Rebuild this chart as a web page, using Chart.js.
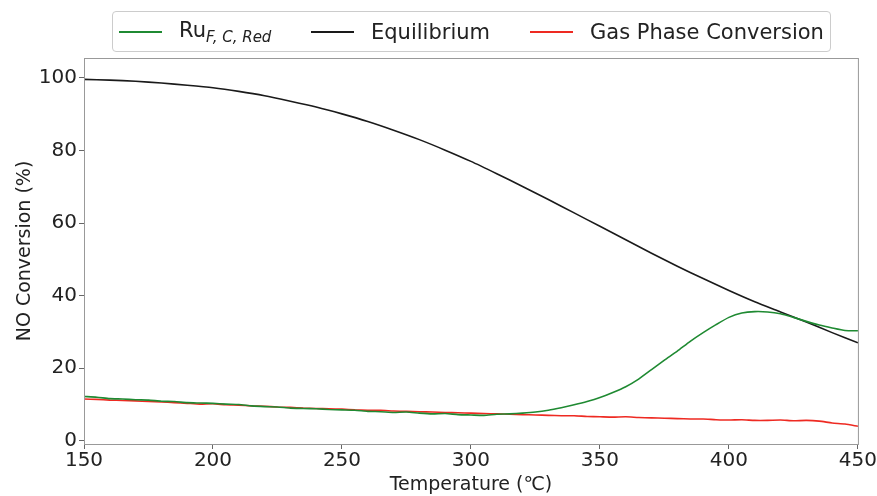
<!DOCTYPE html>
<html>
<head>
<meta charset="utf-8">
<script src="https://cdn.jsdelivr.net/npm/chart.js@4.4.0/dist/chart.umd.min.js"></script>
<style>
  html, body { margin: 0; padding: 0; background: #fff; }
  #wrap { position: relative; width: 877px; height: 496px; }
  #legend {
    position: absolute; left: 112px; top: 11px; width: 719px; height: 41px;
    box-sizing: border-box; border: 1px solid #ccc; border-radius: 4px; background: #fff;
    font-family: "DejaVu Sans", sans-serif; font-size: 21px; color: #222;
  }
  .item { display: flex; align-items: center; position: absolute; top: 0; height: 39px; }
  .swatch { width: 43px; height: 0; border-top: 2px solid; margin-right: 17px; }
  sub { font-size: 15px; font-style: italic; vertical-align: -5px; }
</style>
</head>
<body>
<div id="wrap">
  <canvas id="c" width="877" height="496"></canvas>
  <div id="legend"></div>
</div>
<script>
// Temperaturas (°C)
const tempSteps = [150,155,160,165,170,175,180,185,190,195,200,205,210,215,220,225,230,235,240,245,
  250,255,260,265,270,275,280,285,290,295,300,305,310,315,320,325,330,335,340,345,
  350,355,360,365,370,375,380,385,390,395,400,405,410,415,420,425,430,435,440,445,450];

// Ru F,C,Red
const ruValues = [12.2,12.0,11.6,11.5,11.3,11.2,10.9,10.8,10.5,10.4,10.3,10.1,10.0,9.6,9.4,9.3,9.0,8.9,8.8,8.6,
  8.5,8.4,8.1,8.0,7.8,7.9,7.6,7.4,7.5,7.2,7.1,7.0,7.3,7.4,7.6,7.9,8.4,9.1,9.9,10.8,
  11.9,13.3,14.9,17.0,19.6,22.2,24.7,27.4,29.8,32.0,34.0,35.2,35.6,35.5,35.0,34.0,32.9,31.9,31.1,30.4,30.3];

// Conversao em fase gasosa
const gasValues = [11.5,11.4,11.2,11.1,11.0,10.8,10.7,10.5,10.3,10.1,10.2,9.9,9.8,9.6,9.5,9.3,9.2,9.0,8.9,8.8,
  8.7,8.5,8.4,8.4,8.2,8.1,8.0,7.9,7.8,7.7,7.6,7.5,7.4,7.3,7.2,7.1,7.0,6.9,6.9,6.7,
  6.6,6.5,6.6,6.4,6.3,6.2,6.1,6.0,6.0,5.8,5.7,5.8,5.6,5.6,5.7,5.5,5.6,5.4,4.9,4.6,4.0];

// Equilibrio
const eqTemps = [150,160,170,180,190,200,210,220,230,240,250,260,270,280,290,300,310,320,330,340,
  350,360,370,380,390,400,410,420,430,440,450];
const eqValues = [99.6,99.4,99.1,98.6,98.0,97.3,96.3,95.1,93.6,92.0,90.1,88.0,85.6,83.0,80.1,77.0,73.6,70.1,66.5,62.8,
  59.1,55.4,51.7,48.1,44.7,41.4,38.3,35.5,32.7,29.8,27.0];

const xTicks = [150, 200, 250, 300, 350, 400, 450];
const yTicks = [0, 20, 40, 60, 80, 100];

const series = [
  { label: 'Ru', sub: 'F, C, Red', x: tempSteps, y: ruValues, color: '#1f8a32' },
  { label: 'Equilibrium', x: eqTemps, y: eqValues, color: '#1a1a1a' },
  { label: 'Gas Phase Conversion', x: tempSteps, y: gasValues, color: '#ee2a22' }
];

// Legenda em HTML (subscrito)
const legendPos = [6, 198, 417];
const legend = document.getElementById('legend');
series.forEach((s, i) => {
  const el = document.createElement('div');
  el.className = 'item';
  el.style.left = legendPos[i] + 'px';
  el.innerHTML = `<span class="swatch" style="border-color:${s.color}"></span>` +
    `<span>${s.label}${s.sub ? '<sub>' + s.sub + '</sub>' : ''}</span>`;
  legend.appendChild(el);
});

// Moldura completa do grafico
const frame = {
  id: 'frame',
  afterDraw(chart) {
    const { ctx, chartArea: a } = chart;
    ctx.save();
    ctx.strokeStyle = '#999';
    ctx.lineWidth = 1;
    ctx.strokeRect(a.left + 0.5, a.top + 0.5, a.right - a.left, a.bottom - a.top);
    ctx.restore();
  }
};

const font = { family: '"DejaVu Sans", sans-serif', size: 20 };

new Chart(document.getElementById('c'), {
  type: 'line',
  data: {
    datasets: series.map(s => ({
      label: s.label,
      data: s.x.map((t, i) => ({ x: t, y: s.y[i] })),
      borderColor: s.color,
      borderWidth: 1.6,
      pointRadius: 0,
      tension: 0.2,
      fill: false
    }))
  },
  options: {
    responsive: false,
    animation: false,
    layout: { padding: { top: 58, right: 17, left: 0, bottom: 0 } },
    plugins: { legend: { display: false }, tooltip: { enabled: false } },
    scales: {
      x: {
        type: 'linear', min: 150, max: 450,
        afterBuildTicks: s => { s.ticks = xTicks.map(v => ({ value: v })); },
        afterFit: s => { s.height = 52; },
        grid: { drawOnChartArea: false, drawTicks: true, tickLength: 5, color: '#666' },
        border: { color: '#999' },
        ticks: { font, color: '#222', padding: 0, maxRotation: 0 },
        title: { display: true, text: 'Temperature (℃)', font: { family: font.family, size: 19 }, color: '#222', padding: 0 }
      },
      y: {
        min: -0.9, max: 105.5,
        afterBuildTicks: s => { s.ticks = yTicks.map(v => ({ value: v })); },
        afterFit: s => { s.width = 84; },
        grid: { drawOnChartArea: false, drawTicks: true, tickLength: 5, color: '#666' },
        border: { color: '#999' },
        ticks: { font, color: '#222', padding: 2 },
        title: { display: true, text: 'NO Conversion (%)', font: { family: font.family, size: 19 }, color: '#222', padding: { top: 14, bottom: 0 } }
      }
    }
  },
  plugins: [frame]
});
</script>
</body>
</html>
